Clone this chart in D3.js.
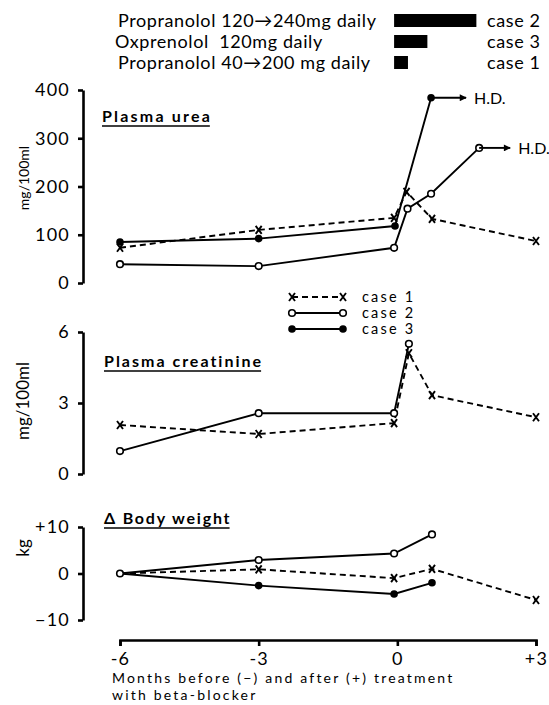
<!DOCTYPE html>
<html><head><meta charset="utf-8">
<script src="https://cdn.jsdelivr.net/npm/d3@7"></script>
<style>
body{margin:0;background:#fff;}
text{font-family:"Lato","DejaVu Sans",sans-serif;fill:#000;}
</style></head>
<body>
<svg id="c" width="549" height="705"></svg>
<script>
// ---- data ----
const cases = ["case 1", "case 2", "case 3"];
const treatmentLabels = ["Propranolol 120\u2192240mg daily", "Oxprenolol  120mg daily", "Propranolol 40\u2192200 mg daily"];
const treatmentCases = ["case 2", "case 3", "case 1"];
const treatmentEnd = [1.78, 0.72, 0.3];   // months after start (bar length)

const monthTicks = [-6, -3, 0, 3];
const monthTickLabels = ["-6", "-3", "0", "+3"];
const xTitleLines = ["Months before (\u2212) and after (+) treatment", "with beta-blocker"];

// Plasma urea (mg/100ml)
const ureaCase1Months = [-6, -3, -0.07, 0.2, 0.75, 3];
const ureaCase1 = [73, 110, 135, 189, 133, 87];
const ureaCase2Months = [-6, -3, -0.07, 0.22, 0.73, 1.77];
const ureaCase2 = [39, 35, 73, 154, 185, 280];
const ureaCase3Months = [-6, -3, -0.05, 0.73];
const ureaCase3 = [85, 92, 118, 384];
const ureaTicks = [0, 100, 200, 300, 400];

// Plasma creatinine (mg/100ml)
const creatCase1Months = [-6, -3, -0.07, 0.25, 0.75, 3];
const creatCase1 = [2.07, 1.69, 2.15, 5.1, 3.33, 2.4];
const creatCase2Months = [-6, -3, -0.07, 0.25];
const creatCase2 = [0.97, 2.57, 2.57, 5.5];
const creatTicks = [0, 3, 6];

// Body weight change (kg)
const weightCase1Months = [-6, -3, -0.07, 0.75, 3];
const weightCase1 = [0, 0.9, -1.0, 1.0, -5.7];
const weightCase2Months = [-6, -3, -0.07, 0.75];
const weightCase2 = [0, 2.9, 4.3, 8.4];
const weightCase3Months = [-6, -3, -0.07, 0.75];
const weightCase3 = [0, -2.6, -4.4, -2.0];
const weightTicks = [-10, 0, 10];
const weightTickLabels = ["\u221210", "0", "+10"];

// ---- drawing ----
const svg = d3.select("#c");
const x = d3.scaleLinear().domain([-6, 3]).range([120, 536]);
const yU = d3.scaleLinear().domain([0, 400]).range([283, 90]);
const yC = d3.scaleLinear().domain([0, 6]).range([474, 332]);
const yW = d3.scaleLinear().domain([-10, 10]).range([620, 527]);

const styles = {
  "case 1": {dash: "6,4", marker: "x"},
  "case 2": {dash: null, marker: "open"},
  "case 3": {dash: null, marker: "filled"}
};

function zip(ms, vs) { return ms.map((m, i) => ({m: m, v: vs[i], i: i})); }

function drawMarker(g, kind, cx, cy) {
  if (kind === "x") {
    g.append("path").attr("d", `M${cx-3},${cy-4}L${cx+3},${cy+4}M${cx+3},${cy-4}L${cx-3},${cy+4}`)
      .attr("stroke", "#000").attr("stroke-width", 1.9).attr("fill", "none");
  } else if (kind === "open") {
    g.append("circle").attr("cx", cx).attr("cy", cy).attr("r", 3.3)
      .attr("fill", "#fff").attr("stroke", "#000").attr("stroke-width", 1.6);
  } else {
    g.append("circle").attr("cx", cx).attr("cy", cy).attr("r", 3.8).attr("fill", "#000");
  }
}

function series(y, ms, vs, c, skipFirstMarker) {
  const pts = zip(ms, vs);
  const st = styles[c];
  const g = svg.append("g");
  g.append("path").datum(pts)
    .attr("d", d3.line().x(d => x(d.m)).y(d => y(d.v)))
    .attr("fill", "none").attr("stroke", "#000").attr("stroke-width", 1.9)
    .attr("stroke-dasharray", st.dash);
  pts.forEach((d, i) => {
    if (skipFirstMarker && i === 0) return;
    drawMarker(g, st.marker, x(d.m), y(d.v));
  });
}

function yAxis(y, ticks, labels) {
  const ax = d3.axisLeft(y).tickValues(ticks).tickSize(5).tickSizeOuter(0).tickPadding(8)
    .tickFormat((d, i) => labels ? labels[i] : d);
  const g = svg.append("g").attr("transform", "translate(83,0)").call(ax);
  g.select(".domain").attr("stroke-width", 2.6);
  g.selectAll(".tick line").attr("stroke-width", 2.6);
  g.selectAll(".tick text").attr("font-size", 18).attr("letter-spacing", 1.2)
    .attr("font-family", "Lato, sans-serif").attr("fill", "#000");
}

function panelTitle(txt, tx, ty, ls) {
  const t = svg.append("text").attr("x", tx).attr("y", ty).attr("font-size", 16)
    .attr("font-weight", "bold").attr("letter-spacing", ls).text(txt);
  const w = t.node().getComputedTextLength();
  svg.append("line").attr("x1", tx).attr("x2", tx + w - ls).attr("y1", ty + 4).attr("y2", ty + 4)
    .attr("stroke", "#000").attr("stroke-width", 1.5);
}

function yLabel(txt, cy, fs) {
  svg.append("text").attr("transform", `translate(29,${cy}) rotate(-90)`)
    .attr("text-anchor", "middle").attr("font-size", fs).text(txt);
}

// Top treatment legend
treatmentLabels.forEach((lab, i) => {
  const by = 27 + i * 21;
  svg.append("text").attr("x", i === 1 ? 115 : 118).attr("y", by).attr("font-size", 18)
    .attr("letter-spacing", 0.6).style("white-space", "pre").text(lab);
  svg.append("rect").attr("x", x(-0.07)).attr("y", by - 13)
    .attr("width", x(treatmentEnd[i]) - x(0)).attr("height", 13).attr("fill", "#000");
  svg.append("text").attr("x", 487).attr("y", by).attr("font-size", 18)
    .attr("letter-spacing", 0.6).text(treatmentCases[i]);
});

// Urea panel
yAxis(yU, ureaTicks);
yLabel("mg/100ml", 178, 14);
panelTitle("Plasma urea", 102, 122, 2.2);
series(yU, ureaCase1Months, ureaCase1, "case 1");
series(yU, ureaCase2Months, ureaCase2, "case 2");
series(yU, ureaCase3Months, ureaCase3, "case 3");

// H.D. arrows
svg.append("defs").append("marker").attr("id", "arr").attr("viewBox", "0 0 10 10")
  .attr("refX", 9).attr("refY", 5).attr("markerWidth", 9).attr("markerHeight", 7)
  .attr("markerUnits", "userSpaceOnUse").attr("orient", "auto")
  .append("path").attr("d", "M0,0L10,5L0,10Z").attr("fill", "#000");
function hd(m, v, len) {
  const x0 = x(m), y0 = yU(v);
  svg.append("line").attr("x1", x0).attr("x2", x0 + len).attr("y1", y0).attr("y2", y0)
    .attr("stroke", "#000").attr("stroke-width", 1.9).attr("marker-end", "url(#arr)");
  svg.append("text").attr("x", x0 + len + 8).attr("y", y0 + 6).attr("font-size", 16).text("H.D.");
}
hd(ureaCase3Months[ureaCase3Months.length - 1], ureaCase3[ureaCase3.length - 1], 35);
hd(ureaCase2Months[ureaCase2Months.length - 1], ureaCase2[ureaCase2.length - 1], 31);

// Middle legend
cases.forEach((c, i) => {
  const ly = 297 + i * 16;
  const g = svg.append("g");
  g.append("line").attr("x1", 292).attr("x2", 343).attr("y1", ly).attr("y2", ly)
    .attr("stroke", "#000").attr("stroke-width", 1.9).attr("stroke-dasharray", styles[c].dash);
  drawMarker(g, styles[c].marker, 292, ly);
  drawMarker(g, styles[c].marker, 343, ly);
  svg.append("text").attr("x", 362).attr("y", ly + 5).attr("font-size", 14.5)
    .attr("letter-spacing", 2.2).text(c);
});

// Creatinine panel
yAxis(yC, creatTicks);
yLabel("mg/100ml", 401, 17);
panelTitle("Plasma creatinine", 104, 367, 2);
series(yC, creatCase1Months, creatCase1, "case 1");
series(yC, creatCase2Months, creatCase2, "case 2");

// Body weight panel
yAxis(yW, weightTicks, weightTickLabels);
yLabel("kg", 548, 17);
panelTitle("\u0394 Body weight", 104, 524, 1.8);
series(yW, weightCase1Months, weightCase1, "case 1", true);
series(yW, weightCase3Months, weightCase3, "case 3", true);
series(yW, weightCase2Months, weightCase2, "case 2");

// X axis
const xa = d3.axisBottom(x).tickValues(monthTicks).tickSize(6).tickPadding(6)
  .tickFormat((d, i) => monthTickLabels[i]);
const gx = svg.append("g").attr("transform", "translate(0,640)").call(xa);
gx.select(".domain").attr("stroke-width", 2.6);
gx.selectAll(".tick line").attr("stroke-width", 2.6);
gx.selectAll(".tick text").attr("font-size", 18).attr("letter-spacing", 1.2)
  .attr("font-family", "Lato, sans-serif").attr("fill", "#000");

xTitleLines.forEach((l, i) => {
  svg.append("text").attr("x", 112).attr("y", 683 + i * 17)
    .attr("font-size", 14).attr("letter-spacing", 2.2).text(l);
});
</script>
</body></html>
